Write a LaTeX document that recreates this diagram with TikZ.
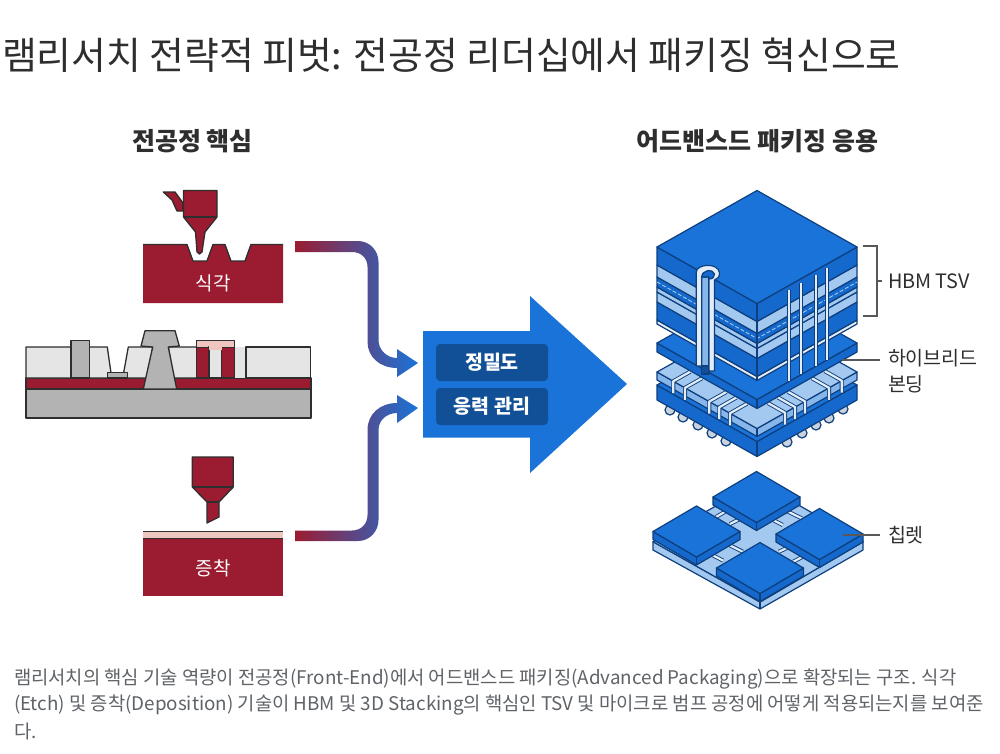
\documentclass[tikz,border=0pt]{standalone}
\usepackage{fontspec}
\setmainfont{Noto Sans CJK KR}
\begin{document}
\definecolor{crim}{HTML}{9B1C31}
\definecolor{ink}{HTML}{2E2E2E}
\definecolor{navy}{HTML}{0E3F7E}
\definecolor{blueA}{HTML}{1A73D9}
\definecolor{blueB}{HTML}{1568CC}
\definecolor{blueC}{HTML}{114F96}
\definecolor{lightA}{HTML}{A3C9F0}
\definecolor{lightB}{HTML}{86B6EA}
\definecolor{paleW}{HTML}{E3EDF8}
\definecolor{greyL}{HTML}{E5E5E5}
\definecolor{greyM}{HTML}{B3B3B3}
\definecolor{pinkL}{HTML}{EFC6BF}
\definecolor{capgrey}{HTML}{5F6368}
\definecolor{midpurple}{HTML}{5F4A8E}
\definecolor{ballc}{HTML}{C9D3DF}
\tikzset{
  txt/.style={inner sep=0pt,outer sep=0pt,text=#1},
  inkline/.style={draw=ink,line width=1.3pt,line join=round},
  blueline/.style={draw=navy,line width=1.2pt,line join=round},
  strip/.style={draw=navy,double=paleW,double distance=2.2pt,line width=.9pt,line join=round},
  flow/.style={left color=crim,middle color=midpurple,right color=blueA,shading angle=90,draw=none},
  labelline/.style={draw=ink!80,line width=1.1pt},
  chiptop/.style={blueline,fill=blueA},
  chipside/.style={blueline,fill=blueB},
}
\newcommand\stackband[3]{\path[blueline,fill=#3] (657,{247+#1}) -- (757,{303.5+#1}) -- (857,{247+#1}) -- (857,{247+#2}) -- (757,{303.5+#2}) -- (657,{247+#2}) -- cycle;}
\newcommand\stackdash[1]{\draw[draw=lightA,line width=.9pt,dash pattern=on 4pt off 2pt] (657,{247+#1}) -- (757,{303.5+#1}) -- (857,{247+#1});}
\newcommand\slabshape[5]{% cx, top-centre y, half w, half h, thickness
  \path[chipside] ({#1-#3},#2) -- (#1,{#2+#4}) -- ({#1+#3},#2) -- ({#1+#3},{#2+#5}) -- (#1,{#2+#4+#5}) -- ({#1-#3},{#2+#5}) -- cycle;
  \path[chiptop] ({#1-#3},#2) -- (#1,{#2-#4}) -- ({#1+#3},#2) -- (#1,{#2+#4}) -- cycle;
  \path[blueline] (#1,{#2+#4}) -- (#1,{#2+#4+#5});}
\newcommand\leftstrip[1]{\draw[strip] (#1,{384+(#1-657)*.565}) -- (#1,{372+(#1-657)*.565}) -- ({#1+17},{372+(#1+17-657)*.565-19.2});}
\newcommand\rightstrip[1]{\draw[strip] (#1,{384+(857-#1)*.565}) -- (#1,{372+(857-#1)*.565}) -- ({#1-17},{372+(857-#1+17)*.565-19.2});}
\begin{tikzpicture}[x=1pt,y=-1pt]
\path[use as bounding box,fill=white] (0,0) rectangle (1000,753);

% title and headers
\node[txt=ink,anchor=west,font=\fontsize{37.8}{42}\selectfont] (title) at (2,55) {램리서치 전략적 피벗: 전공정 리더십에서 패키징 혁신으로};
\node[txt=ink,font=\bfseries\fontsize{25}{28}\selectfont] (hleft) at (192.5,141) {전공정 핵심};
\node[txt=ink,font=\bfseries\fontsize{25}{28}\selectfont] (hright) at (757.5,141) {어드밴스드 패키징 응용};

% etch
\path[fill=crim] (143,244.5) -- (187,244.5) -- (193,261) -- (207,261) -- (213,244.5) -- (225,244.5) -- (231,261) -- (245,261) -- (251,244.5) -- (283,244.5) -- (283,303) -- (143,303) -- cycle;
\draw[inkline] (143,244.5) -- (187,244.5) -- (193,261) -- (207,261) -- (213,244.5) -- (225,244.5) -- (231,261) -- (245,261) -- (251,244.5) -- (283,244.5);
\path[inkline,fill=crim] (163.3,192) -- (175,192) -- (183,203) -- (183,211) -- (177,211) -- (172,200) -- cycle;
\path[inkline,fill=crim] (183.5,190.5) -- (217,190.5) -- (217,217) -- (205,232) -- (202,252) -- (199.5,254) -- (197,252) -- (195.5,232) -- (183.5,217) -- cycle;
\draw[inkline] (183.5,217) -- (217,217);
\node[txt=white,font=\fontsize{19}{21}\selectfont] (etchlabel) at (213,283) {식각};

% cross-section
\path[inkline,fill=greyM] (26,389) rectangle (311,418);
\path[inkline,fill=crim] (26,378) rectangle (311,389);
\path[inkline,fill=greyL] (26,347) -- (107.3,347) -- (111.7,378) -- (26,378) -- cycle;
\path[inkline,fill=greyL] (128.3,347) -- (152.7,347) -- (148.3,378) -- (122.7,378) -- cycle;
\path[inkline,fill=greyL] (168.3,347) -- (196.7,347) -- (196.7,378) -- (173.3,378) -- cycle;
\path[fill=greyL] (234.3,347) rectangle (246,378);
\path[inkline,fill=greyL] (246,378) -- (246,347) -- (310.7,347) -- (310.7,378) -- cycle;
\path[inkline,fill=greyM] (71,378) -- (71,340.7) -- (89.3,340.7) -- (89.3,378) -- cycle;
\path[inkline,fill=greyM] (107.3,378) -- (107.3,372.3) -- (127.3,372.3) -- (127.3,378) -- cycle;
\path[inkline,fill=greyM] (145,330.7) -- (175,330.7) -- (179.3,346) -- (168.3,347) -- (176.7,389) -- (143.3,389) -- (152.7,347) -- (141,346) -- cycle;
\path[inkline,fill=crim] (196.7,378) -- (196.7,347) -- (234.3,347) -- (234.3,378) -- cycle;
\path[fill=pinkL] (196.7,340.7) rectangle (234.3,347);
\path[inkline,fill=greyL] (209,378) -- (209,347) -- (221.7,347) -- (221.7,378) -- cycle;
\path[fill=pinkL] (209,346) rectangle (221.7,350);
\draw[inkline] (196.7,347) -- (196.7,340.7) -- (234.3,340.7) -- (234.3,347);

% deposition
\path[fill=crim] (143,539) rectangle (283,596);
\path[fill=pinkL] (143,532) rectangle (283,538.5);
\draw[inkline] (143,531.3) -- (283,531.3);
\draw[inkline] (143,538.7) -- (283,538.7);
\path[inkline,fill=crim] (192.3,457) -- (233.3,457) -- (233.3,487) -- (219,502) -- (219,517) -- (207,523) -- (207,502) -- (192.3,487) -- cycle;
\draw[inkline] (192.3,487) -- (233.3,487);
\draw[inkline] (207,502) -- (219,502);
\node[txt=white,font=\fontsize{19}{21}\selectfont] (deplabel) at (213,568) {증착};

% gradient connectors
\shade[flow] (295,241) -- (358,241) .. controls (369,241) and (378.5,250) .. (378.5,262) -- (378.5,340) .. controls (378.5,350) and (387,358) .. (397,358) -- (397,349) -- (418,363) -- (397,377) -- (397,368) .. controls (380,368) and (367.5,357) .. (367.5,342) -- (367.5,267) .. controls (367.5,258) and (361,252) .. (352,252) -- (295,252) -- cycle;
\shade[flow] (295,530.5) -- (352,530.5) .. controls (361,530.5) and (367.5,524) .. (367.5,515) -- (367.5,430) .. controls (367.5,414) and (380,403) .. (397,403) -- (397,395) -- (418,408) -- (397,423) -- (397,413) .. controls (387,413) and (378.5,420) .. (378.5,430) -- (378.5,520) .. controls (378.5,531) and (370,541) .. (358,541) -- (295,541) -- cycle;

% big arrow
\path[fill=blueA] (423,331) -- (530,331) -- (530,296) -- (627,384) -- (530,473) -- (530,437.5) -- (423,437.5) -- cycle;
\node[fill=blueC,rounded corners=4pt,minimum width=112pt,minimum height=37pt,inner sep=0pt,text=white,font=\bfseries\fontsize{19.5}{22}\selectfont] (precision) at (492,362.5) {정밀도};
\node[fill=blueC,rounded corners=4pt,minimum width=112pt,minimum height=37pt,inner sep=0pt,text=white,font=\bfseries\fontsize{19.5}{22}\selectfont] (stress) at (492,406.5) {응력 관리};

% package: balls
\foreach \bx/\by in {670/410,683/417,698/425,712/433,726/441,787/442,802/433,816/425,829/418,843/409}
  \path[blueline,fill=ballc] (\bx,\by) circle[radius=5];
% base
\slabshape{757}{385}{100}{56.5}{15}
% interposer block
\path[blueline,fill=lightB] (657,372) -- (757,428.5) -- (857,372) -- (857,380) -- (757,436.5) -- (657,380) -- cycle;
\path[blueline,fill=lightA] (657,372) -- (757,315.5) -- (857,372) -- (757,428.5) -- cycle;
\path[blueline] (757,428.5) -- (757,436.5);
\foreach \sx in {673.3,685,709.3,719.3,730} {\leftstrip{\sx}}
\foreach \sx in {785,795,805,829,841.7} {\rightstrip{\sx}}
% bonding slab
\slabshape{757}{343}{100}{56.5}{9}
% stack
\stackband{73}{77}{paleW}
\stackband{55}{73}{blueB}
\stackband{45}{55}{lightA}
\stackband{40}{45}{lightA}
\stackband{30}{40}{blueB}
\stackband{18}{30}{lightA}
\stackband{0}{18}{blueB}
\stackdash{35}
\draw[blueline] (757,303.5) -- (757,380.5);
% top face
\path[chiptop] (657,247) -- (757,190.5) -- (857,247) -- (757,303.5) -- cycle;
% pillars on the right
\foreach \px/\pt/\pb in {789/290/381,801/283/374,816/275/366,827/268/360}
  \draw[strip] (\px,\pb) -- (\px,\pt);
% large via
\path[blueline,fill=blueC] (701.5,374) -- (701.5,300) -- (709,300) -- (709,374) -- cycle;
\path[blueline,fill=lightB] (701.7,366) -- (701.7,276) -- (709,276) -- (709,366) -- cycle;
\path[blueline,fill=paleW] (696.3,366) -- (696.3,272) .. controls (696.3,264) and (718.5,262) .. (719.5,273) .. controls (719.8,277) and (717,279) .. (714.5,280) -- (714.5,371) -- (709,371) -- (709,277) -- (701.7,277) -- (701.7,366) -- cycle;
\path[blueline,fill=blueB] (701.7,277) .. controls (701.7,270) and (713,268) .. (714.5,274) .. controls (714.5,277) and (713,279) .. (709,279) -- (709,277) -- cycle;

% chiplets
\path[blueline,fill=lightA] (653,541.7) -- (760,602) -- (863,541.7) -- (863,550) -- (760,609) -- (653,550) -- cycle;
\path[blueline,fill=lightA] (653,541.7) -- (758,482) -- (863,541.7) -- (760,602) -- cycle;
\draw[blueline] (760,602) -- (760,609);
\draw[strip] (716,517) -- (726.7,510.7);
\draw[strip] (730,524) -- (741.7,518);
\draw[strip] (771.7,519.3) -- (782.7,525);
\draw[strip] (786.7,511) -- (801.7,518.3);
\draw[strip] (712.3,555) -- (723.3,560.7);
\draw[strip] (727.3,544) -- (742.7,551.7);
\draw[strip] (779,551.7) -- (789.3,546.7);
\draw[strip] (793.3,561.7) -- (804,556);
\slabshape{756.5}{497}{43.5}{25.5}{8}
\slabshape{696.5}{531.5}{43.5}{25.5}{8}
\slabshape{819.5}{534}{43.5}{25.5}{8}
\slabshape{760}{568}{43.5}{25.5}{8}

% callouts
\coordinate (hbmtop) at (863,246);
\coordinate (hbmbot) at (863,316);
\coordinate (hbmmid) at (877,281);
\coordinate (hbmtick) at (882,281);
\draw[labelline] (hbmtop) -- (877,246) -- (877,316) -- (hbmbot);
\draw[labelline] (hbmmid) -- (hbmtick);
\node[txt=ink,anchor=west,font=\fontsize{19.8}{22}\selectfont] (hbm) at (888,281) {HBM TSV};
\node[txt=ink,anchor=west,font=\fontsize{19.5}{22}\selectfont] (hybridA) at (888,358) {하이브리드};
\node[txt=ink,anchor=west,font=\fontsize{19.5}{22}\selectfont] (hybridB) at (888,384) {본딩};
\coordinate (hybridpt) at (842,360);
\coordinate (hybridend) at (880,360);
\draw[labelline] (hybridpt) -- (hybridend);
\node[txt=ink,anchor=west,font=\fontsize{19.5}{22}\selectfont] (chiplet) at (888,535) {칩렛};
\coordinate (chipletpt) at (843,535);
\coordinate (chipletend) at (880,535);
\draw[labelline] (chipletpt) -- (chipletend);

% caption
\node[txt=capgrey,anchor=west,font=\fontsize{18.8}{22}\selectfont] (capA) at (14,678.5) {램리서치의 핵심 기술 역량이 전공정(Front-End)에서 어드밴스드 패키징(Advanced Packaging)으로 확장되는 구조. 식각};
\node[txt=capgrey,anchor=west,font=\fontsize{18.8}{22}\selectfont] (capB) at (14,705) {(Etch) 및 증착(Deposition) 기술이 HBM 및 3D Stacking의 핵심인 TSV 및 마이크로 범프 공정에 어떻게 적용되는지를 보여준};
\node[txt=capgrey,anchor=west,font=\fontsize{18.8}{22}\selectfont] (capC) at (14,731) {다.};
\end{tikzpicture}
\end{document}
